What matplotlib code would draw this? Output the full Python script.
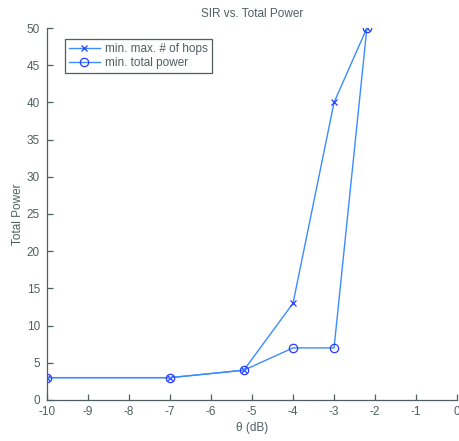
import matplotlib
matplotlib.use("Agg")
import matplotlib.pyplot as plt

theta_db = [-10, -7, -5.2, -4, -3, -2.2]
power_min_max_hops = [3, 3, 4, 13, 40, 50]
power_min_total = [3, 3, 4, 7, 7, 50]
x_ticks = [-10, -9, -8, -7, -6, -5, -4, -3, -2, -1, 0]
y_ticks = [0, 5, 10, 15, 20, 25, 30, 35, 40, 45, 50]

axis_color = '#4f5f5f'
plt.rcParams['font.family'] = ['Liberation Sans', 'DejaVu Sans']
plt.rcParams['axes.unicode_minus'] = False

fig = plt.figure(figsize=(4.59, 4.41), dpi=100)
ax = fig.add_axes([0.102, 0.093, 0.894, 0.8435])

ax.plot(theta_db, power_min_max_hops, color='#3a8cff', lw=1.0, marker='x',
        ms=4, mec='#2a3cff', mew=0.9, label='min. max. # of hops')
ax.plot(theta_db, power_min_total, color='#3a8cff', lw=1.0, marker='o',
        ms=6, mfc='none', mec='#2a3cff', mew=0.9, label='min. total power')

ax.set_xlim(-10, 0)
ax.set_ylim(0, 50)
ax.set_xticks(x_ticks)
ax.set_yticks(y_ticks)
ax.tick_params(direction='in', length=4, width=0.9, colors=axis_color,
               labelsize=8.5)
ax.tick_params(axis='y', pad=5)
ax.tick_params(axis='x', pad=4)
for s in ['top', 'right']:
    ax.spines[s].set_visible(False)
for s in ['left', 'bottom']:
    ax.spines[s].set_color(axis_color)
    ax.spines[s].set_linewidth(0.9)

ax.set_title('SIR vs. Total Power', fontsize=8.5, color=axis_color, pad=8)
ax.set_xlabel('θ (dB)', fontsize=8.5, color=axis_color, labelpad=3)
ax.set_ylabel('Total Power', fontsize=8.5, color=axis_color, labelpad=2)

leg = ax.legend(loc='upper left', bbox_to_anchor=(0.045, 0.97), fontsize=8.5,
                fancybox=False, framealpha=1, edgecolor=axis_color,
                borderpad=0.3, handlelength=2.6, labelspacing=0.2,
                handletextpad=0.5, borderaxespad=0)
leg.get_frame().set_linewidth(0.9)
for t in leg.get_texts():
    t.set_color(axis_color)

fig.savefig('out.png', dpi=100)
